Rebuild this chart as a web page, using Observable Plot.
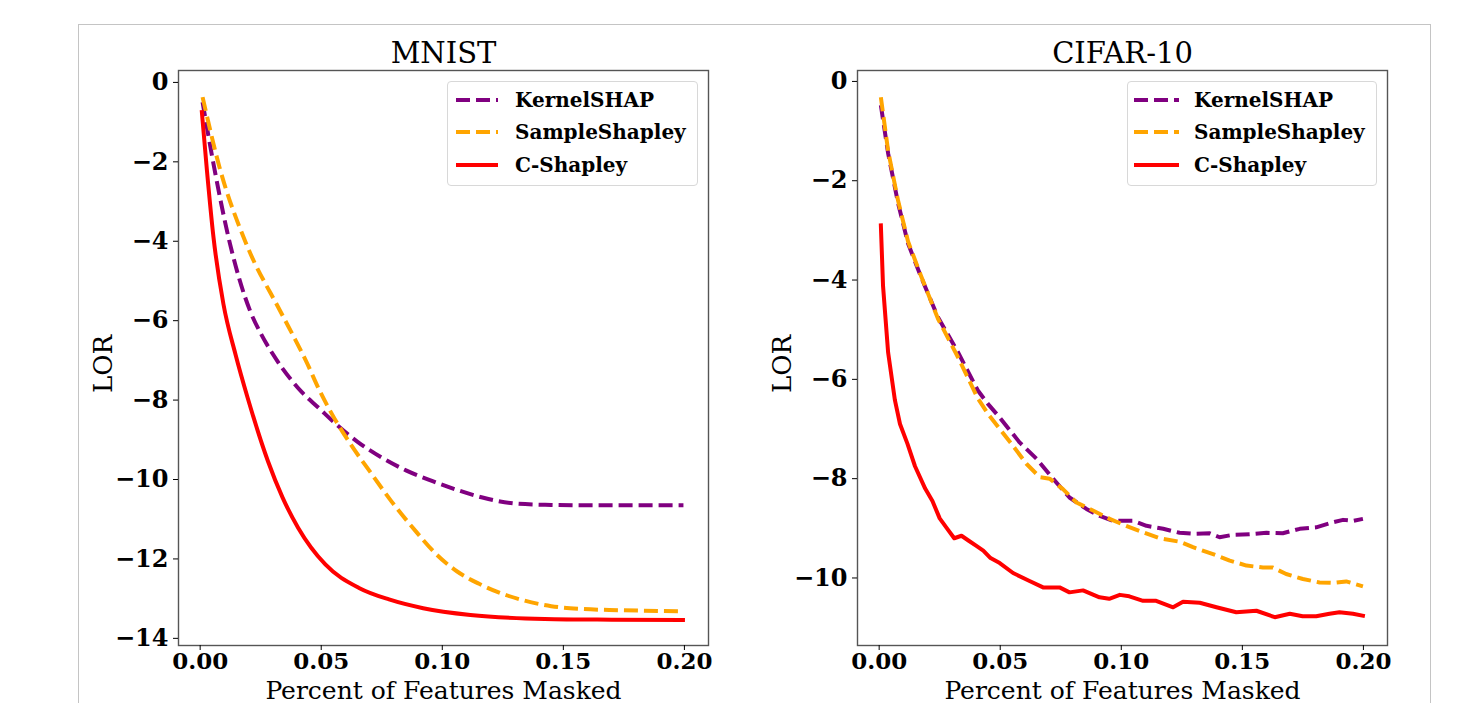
<!DOCTYPE html>
<html><head><meta charset="utf-8">
<script src="https://cdn.jsdelivr.net/npm/d3@7"></script>
<script src="https://cdn.jsdelivr.net/npm/@observablehq/plot@0.6"></script>
<style>
html,body{margin:0;padding:0;background:#fff;}
#wrap{position:relative;width:1474px;height:703px;overflow:hidden;background:#fff;}
#border{position:absolute;left:78px;top:24px;width:1353px;height:720px;border:1px solid #c4c4c4;box-sizing:border-box;}
.panel{position:absolute;top:0;width:737px;height:703px;}
.legend{position:absolute;top:81px;height:105px;border:1px solid #d8d8d8;border-radius:4px;background:rgba(255,255,255,0.85);box-sizing:border-box;font-family:"DejaVu Serif",serif;font-weight:bold;font-size:20px;color:#000;}
.legend .row{position:absolute;left:0;height:32px;display:flex;align-items:center;white-space:nowrap;}
.legend svg{display:block;}
</style></head>
<body><div id="wrap"><div id="border"></div></div>
<script>
// ---- data ----
const seriesNames = ["KernelSHAP", "SampleShapley", "C-Shapley"];
const seriesColors = ["purple", "orange", "red"];
const xTicks = [0, 0.05, 0.10, 0.15, 0.20];
const mnistYTicks = [0, -2, -4, -6, -8, -10, -12, -14];
const cifarYTicks = [0, -2, -4, -6, -8, -10];

const mnistKernel = [[0.001,-0.5],[0.0055,-2.05],[0.0123,-4.06],[0.0206,-5.75],[0.0251,-6.33],[0.030,-6.84],[0.038,-7.52],[0.042,-7.8],[0.049,-8.2],[0.056,-8.6],[0.065,-9.05],[0.075,-9.45],[0.085,-9.77],[0.096,-10.04],[0.107,-10.28],[0.117,-10.46],[0.131,-10.61],[0.145,-10.64],[0.159,-10.65],[0.18,-10.65],[0.1996,-10.65]];
const mnistSample = [[0.001,-0.37],[0.008,-2.14],[0.019,-4.06],[0.033,-5.75],[0.038,-6.33],[0.044,-7.05],[0.049,-7.72],[0.0545,-8.36],[0.062,-9.1],[0.070,-9.79],[0.079,-10.55],[0.089,-11.3],[0.097,-11.85],[0.106,-12.31],[0.115,-12.62],[0.124,-12.86],[0.134,-13.05],[0.145,-13.19],[0.158,-13.26],[0.173,-13.29],[0.1996,-13.32]];
const mnistC = [[0.0007,-0.75],[0.0028,-2.22],[0.0055,-3.9],[0.0096,-5.58],[0.0146,-6.85],[0.0196,-7.94],[0.028,-9.54],[0.034,-10.45],[0.0405,-11.22],[0.0517,-12.14],[0.0656,-12.73],[0.078,-13.02],[0.0921,-13.24],[0.1116,-13.41],[0.1423,-13.51],[0.17,-13.53],[0.1994,-13.54]];

const cifarKernel = [[0.0007,-0.48],[0.0037,-1.45],[0.0078,-2.45],[0.0119,-3.26],[0.0173,-3.94],[0.0243,-4.75],[0.0325,-5.45],[0.0407,-6.22],[0.045,-6.5],[0.0498,-6.77],[0.058,-7.27],[0.065,-7.6],[0.0718,-8.0],[0.0786,-8.38],[0.0856,-8.61],[0.0911,-8.75],[0.0966,-8.85],[0.1049,-8.85],[0.1104,-8.95],[0.1173,-9.01],[0.1241,-9.09],[0.1296,-9.11],[0.1365,-9.1],[0.1406,-9.18],[0.1461,-9.13],[0.153,-9.12],[0.16,-9.09],[0.1667,-9.1],[0.1737,-9.01],[0.1805,-8.98],[0.1874,-8.88],[0.1916,-8.83],[0.1957,-8.85],[0.1998,-8.81]];
const cifarSample = [[0.0007,-0.32],[0.0037,-1.4],[0.0078,-2.4],[0.0119,-3.22],[0.0173,-3.92],[0.0243,-4.78],[0.0325,-5.55],[0.0407,-6.38],[0.045,-6.7],[0.0498,-7.0],[0.0553,-7.34],[0.0608,-7.7],[0.0663,-7.97],[0.0704,-8.0],[0.0759,-8.21],[0.0815,-8.48],[0.0883,-8.64],[0.0952,-8.81],[0.102,-8.95],[0.109,-9.08],[0.1158,-9.2],[0.1241,-9.27],[0.1296,-9.38],[0.1379,-9.52],[0.1448,-9.65],[0.1517,-9.75],[0.1585,-9.79],[0.1626,-9.79],[0.1681,-9.92],[0.175,-10.02],[0.1819,-10.09],[0.1874,-10.1],[0.1929,-10.07],[0.1998,-10.17]];
const cifarC = [[0.0007,-2.9],[0.0016,-4.12],[0.0037,-5.46],[0.0065,-6.42],[0.0086,-6.9],[0.0117,-7.3],[0.0148,-7.75],[0.019,-8.2],[0.022,-8.45],[0.025,-8.8],[0.028,-9.0],[0.031,-9.2],[0.034,-9.15],[0.037,-9.25],[0.040,-9.35],[0.043,-9.45],[0.046,-9.6],[0.0498,-9.70],[0.0553,-9.9],[0.0621,-10.06],[0.0677,-10.19],[0.0745,-10.19],[0.0786,-10.29],[0.0842,-10.25],[0.091,-10.39],[0.095,-10.42],[0.0994,-10.34],[0.1033,-10.37],[0.109,-10.46],[0.1144,-10.46],[0.1214,-10.59],[0.1255,-10.48],[0.1324,-10.5],[0.1393,-10.59],[0.1475,-10.69],[0.1558,-10.66],[0.1634,-10.79],[0.1696,-10.72],[0.1749,-10.77],[0.1805,-10.77],[0.186,-10.72],[0.1901,-10.69],[0.1957,-10.72],[0.1998,-10.76]];

// ---- drawing ----
const FONT = "DejaVu Serif";
const xDomain = [-0.00895, 0.20995];
const dashes = ["14,6", "14,6", null];

function panel(opts) {
  const {title, series, yDomain, yTicks, mLeft, mRight, curve} = opts;
  const lines = series.map((data, i) => Plot.line(data, {
    x: d => d[0], y: d => d[1], stroke: seriesColors[i], strokeWidth: 4,
    strokeDasharray: dashes[i] || undefined, strokeLinecap: dashes[i] ? "butt" : "square",
    strokeLinejoin: "round", curve
  }));
  return Plot.plot({
    width: 737, height: 703,
    marginTop: 70, marginBottom: 58, marginLeft: mLeft, marginRight: mRight,
    style: {background: "transparent", overflow: "visible", fontFamily: FONT},
    x: {domain: xDomain},
    y: {domain: yDomain},
    marks: [
      ...lines,
      Plot.frame({stroke: "#555", strokeWidth: 1.4}),
      Plot.axisX({ticks: xTicks, tickFormat: d3.format(".2f"), tickSize: 5, tickPadding: 2,
        fontSize: 23, fontWeight: "bold", fontFamily: FONT, label: null, color: "black"}),
      Plot.axisY({ticks: yTicks, tickFormat: d3.format("d"), tickSize: 5, tickPadding: 5,
        fontSize: 24, fontWeight: "bold", fontFamily: FONT, label: null, color: "black"}),
      Plot.text([title], {text: d => d, frameAnchor: "top", dy: -17, lineAnchor: "middle",
        fontSize: 29, fontFamily: FONT, fill: "black"}),
      Plot.text(["Percent of Features Masked"], {text: d => d, frameAnchor: "bottom", dy: 45,
        lineAnchor: "middle", fontSize: 25, fontFamily: FONT, fill: "black"}),
      Plot.text(["LOR"], {text: d => d, frameAnchor: "left", dx: -75, dy: 6, rotate: -90,
        textAnchor: "middle", lineAnchor: "middle", fontSize: 26, fontFamily: FONT, fill: "black"})
    ]
  });
}

function legend(left, width, swX, swLen, textX) {
  const div = document.createElement("div");
  div.className = "legend";
  div.style.left = left + "px";
  div.style.width = width + "px";
  const rowTops = [2, 34, 67];
  seriesNames.forEach((name, i) => {
    const row = document.createElement("div");
    row.className = "row";
    row.style.top = rowTops[i] + "px";
    const ns = "http://www.w3.org/2000/svg";
    const svg = document.createElementNS(ns, "svg");
    svg.setAttribute("width", textX);
    svg.setAttribute("height", 32);
    const ln = document.createElementNS(ns, "line");
    ln.setAttribute("x1", swX); ln.setAttribute("x2", swX + swLen);
    ln.setAttribute("y1", 16); ln.setAttribute("y2", 16);
    ln.setAttribute("stroke", seriesColors[i]);
    ln.setAttribute("stroke-width", 4);
    if (dashes[i]) ln.setAttribute("stroke-dasharray", dashes[i]);
    svg.appendChild(ln);
    row.appendChild(svg);
    const t = document.createElement("span");
    t.textContent = name;
    row.appendChild(t);
    div.appendChild(row);
  });
  return div;
}

const wrap = document.getElementById("wrap");
const p1 = document.createElement("div"); p1.className = "panel"; p1.style.left = "0px";
p1.appendChild(panel({title: "MNIST", series: [mnistKernel, mnistSample, mnistC],
  yDomain: [-14.18, 0.3], yTicks: mnistYTicks, mLeft: 178, mRight: 29, curve: "monotone-x"}));
const p2 = document.createElement("div"); p2.className = "panel"; p2.style.left = "737px";
p2.appendChild(panel({title: "CIFAR-10", series: [cifarKernel, cifarSample, cifarC],
  yDomain: [-11.36, 0.22], yTicks: cifarYTicks, mLeft: 120, mRight: 87, curve: "linear"}));
wrap.appendChild(p1);
wrap.appendChild(p2);
wrap.appendChild(legend(447, 251, 8, 42, 67));
wrap.appendChild(legend(1127, 250, 6, 45, 66));
</script>
</body></html>
